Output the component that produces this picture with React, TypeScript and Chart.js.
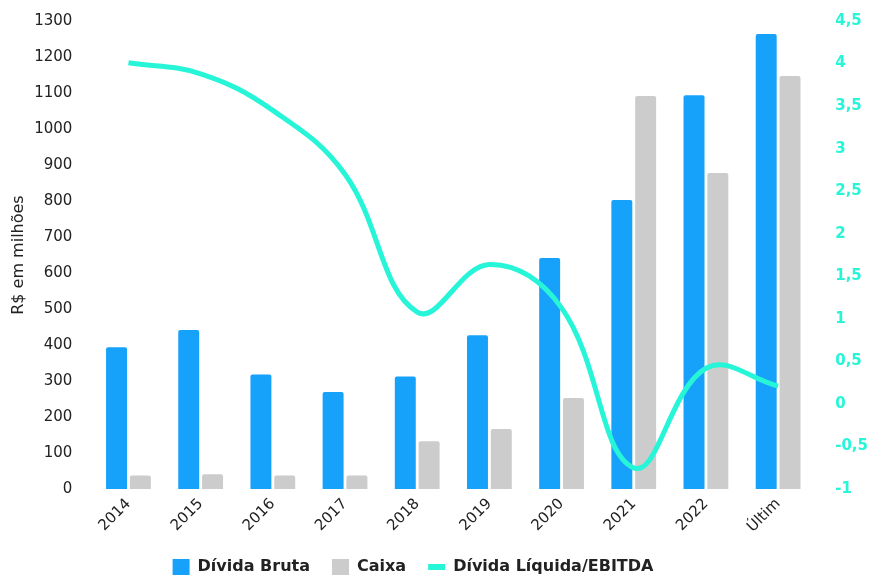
import React, { useEffect, useRef } from "react";
import { Chart, registerables } from "chart.js";

Chart.register(...registerables);

const categories = ["2014", "2015", "2016", "2017", "2018", "2019", "2020", "2021", "2022", "Últim"];
const dividaBruta = [394, 442, 318, 270, 313, 427, 642, 803, 1094, 1264];
const caixa = [38, 41, 38, 38, 133, 167, 253, 1092, 878, 1147];
const dividaLiquidaEbitda = [4.01, 3.88, 3.45, 2.7, 1.08, 1.64, 1.13, -0.75, 0.42, 0.21];
const leftTicks = { min: 0, max: 1300, step: 100 };
const rightTicks = { min: -1, max: 4.5, step: 0.5 };

const BLUE = "#16A2FA";
const GRAY = "#CCCCCC";
const CYAN = "#27F5D8";
const TEXT = "#222222";
const FONT = "'DejaVu Sans', 'Open Sans', sans-serif";

const legendFitPlugin = {
  id: "legendFit",
  beforeUpdate(chart: any) {
    const lg = chart.legend;
    if (lg && !lg._patchedFit) {
      const orig = lg.fit;
      lg.fit = function () {
        orig.call(this);
        this.height -= 9;
      };
      lg._patchedFit = true;
    }
  },
};

export default function App() {
  const ref = useRef<HTMLCanvasElement | null>(null);

  useEffect(() => {
    document.body.style.margin = "0";
    const canvas = ref.current;
    if (!canvas) return;
    const chart = new Chart(canvas, {
      type: "bar",
      plugins: [legendFitPlugin],
      data: {
        labels: categories,
        datasets: [
          {
            type: "bar",
            label: "Dívida Bruta",
            data: dividaBruta,
            backgroundColor: BLUE,
            borderRadius: 2,
            borderSkipped: "bottom",
            yAxisID: "y",
            order: 1,
            categoryPercentage: 0.66,
            barPercentage: 0.88,
          },
          {
            type: "bar",
            label: "Caixa",
            data: caixa,
            backgroundColor: GRAY,
            borderRadius: 2,
            borderSkipped: "bottom",
            yAxisID: "y",
            order: 1,
            categoryPercentage: 0.66,
            barPercentage: 0.88,
          },
          {
            type: "line",
            label: "Dívida Líquida/EBITDA",
            data: dividaLiquidaEbitda,
            borderColor: CYAN,
            backgroundColor: CYAN,
            borderWidth: 5,
            pointRadius: 0,
            tension: 0.4,
            yAxisID: "y1",
            order: 0,
          },
        ],
      },
      options: {
        animation: false,
        responsive: true,
        maintainAspectRatio: false,
        layout: { padding: { left: 5, right: 2, top: 21, bottom: 0 } },
        plugins: {
          tooltip: { enabled: false },
          legend: {
            position: "bottom",
            labels: {
              usePointStyle: true,
              pointStyleWidth: 17,
              boxHeight: 17,
              padding: 22,
              color: TEXT,
              font: { family: FONT, size: 16, weight: "bold" },
              generateLabels: () => [
                { text: "Dívida Bruta", fillStyle: BLUE, strokeStyle: BLUE, lineWidth: 0, pointStyle: "rect", hidden: false, datasetIndex: 0, fontColor: TEXT },
                { text: "Caixa", fillStyle: GRAY, strokeStyle: GRAY, lineWidth: 0, pointStyle: "rect", hidden: false, datasetIndex: 1, fontColor: TEXT },
                { text: "Dívida Líquida/EBITDA", fillStyle: CYAN, strokeStyle: CYAN, lineWidth: 6, pointStyle: "line", hidden: false, datasetIndex: 2, fontColor: TEXT },
                { text: "", fillStyle: "rgba(0,0,0,0)", strokeStyle: "rgba(0,0,0,0)", lineWidth: 0, pointStyle: "rect", hidden: false, datasetIndex: 3, fontColor: TEXT },
              ],
            },
          },
        },
        scales: {
          x: {
            grid: { display: false, drawTicks: false },
            border: { display: false },
            afterFit: (s: any) => {
              s.paddingLeft = 0;
              s.paddingRight = 0;
              s.height -= 5;
            },
            ticks: {
              color: TEXT,
              maxRotation: 45,
              minRotation: 45,
              padding: 6,
              font: { family: FONT, size: 15 },
            },
          },
          y: {
            position: "left",
            min: leftTicks.min,
            max: leftTicks.max,
            grid: { display: false, drawTicks: false },
            border: { display: false },
            afterFit: (s: any) => {
              s.width -= 20;
              s.paddingTop = 0;
            },
            ticks: {
              stepSize: leftTicks.step,
              color: TEXT,
              padding: 20,
              font: { family: FONT, size: 15 },
              callback: (v: any) => String(v),
            },
            title: {
              display: true,
              text: "R$ em milhões",
              color: TEXT,
              padding: { top: 4, bottom: 6 },
              font: { family: FONT, size: 16 },
            },
          },
          y1: {
            position: "right",
            min: rightTicks.min,
            max: rightTicks.max,
            grid: { display: false, drawTicks: false },
            border: { display: false },
            afterFit: (s: any) => {
              s.width -= 21;
              s.paddingTop = 0;
            },
            ticks: {
              stepSize: rightTicks.step,
              color: CYAN,
              padding: 21,
              font: { family: FONT, size: 15, weight: "bold" },
              callback: (v: any) => String(v).replace(".", ","),
            },
          },
        },
      },
    });
    return () => chart.destroy();
  }, []);

  return (
    <div style={{ width: 870, height: 576, position: "relative" }}>
      <canvas ref={ref} />
    </div>
  );
}
